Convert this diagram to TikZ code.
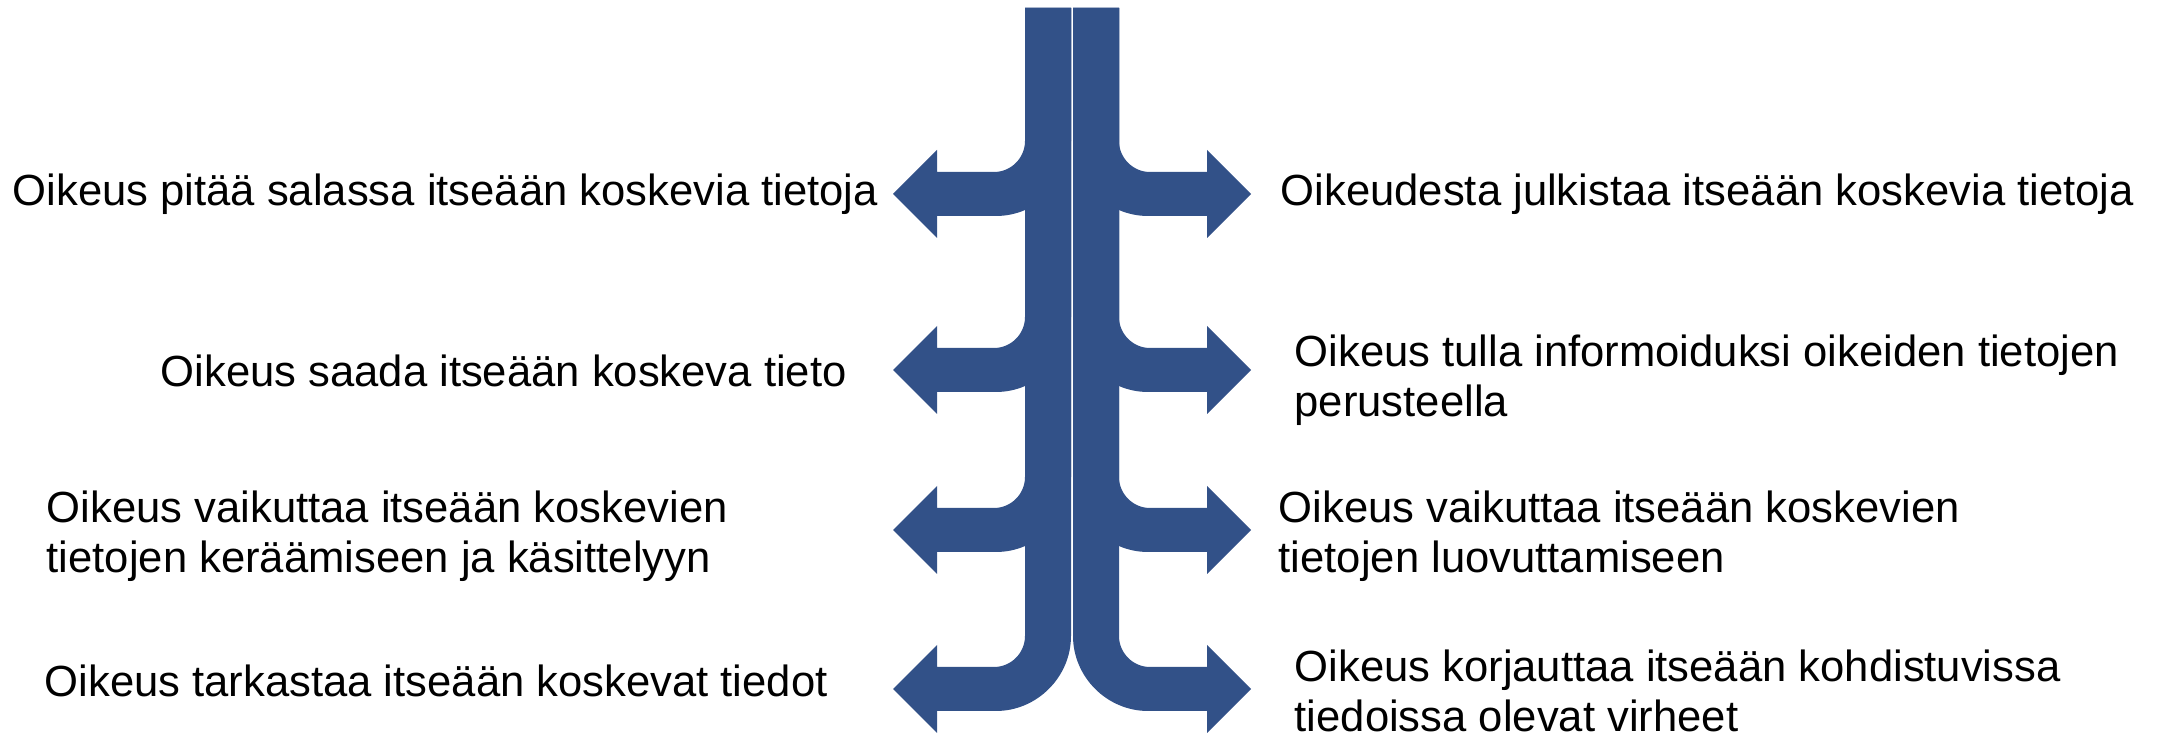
\documentclass[tikz,border=0pt]{standalone}
\usepackage{fontspec}
\setmainfont{Liberation Sans}
\definecolor{arrowblue}{RGB}{50,81,136}
\begin{document}
\begin{tikzpicture}[x=0.01cm,y=-0.01cm,
	infotext/.style={anchor=west,inner sep=0pt,align=left,font=\fontsize{12.4}{14.1}\selectfont},
	bent/.style={fill=arrowblue}]
	\useasboundingbox (0,0) rectangle (2159,737);
	\foreach \s/\o in {1/0,-1/2144}{
		\foreach \c in {194,370,530,689}{
			\fill[bent,shift={(\o,0)},xscale=\s] (1025,8) -- (1071,8) -- (1071,\c-53)
				.. controls (1071,\c-12) and (1037,\c+22) .. (996,\c+22) -- (937,\c+22) -- (937,\c+44)
				-- (893,\c) -- (937,\c-44) -- (937,\c-22) -- (994,\c-22)
				.. controls (1011,\c-22) and (1025,\c-36) .. (1025,\c-53) -- cycle;
		}
	}
	\node[infotext] (l1) at (12,194) {Oikeus pitää salassa itseään koskevia tietoja};
	\node[infotext] (l2) at (160,371) {Oikeus saada itseään koskeva tieto};
	\node[infotext] (l3) at (46,536) {Oikeus vaikuttaa itseään koskevien\\tietojen keräämiseen ja käsittelyyn};
	\node[infotext] (l4) at (44,681) {Oikeus tarkastaa itseään koskevat tiedot};
	\node[infotext] (r1) at (1280,194) {Oikeudesta julkistaa itseään koskevia tietoja};
	\node[infotext] (r2) at (1294,380) {Oikeus tulla informoiduksi oikeiden tietojen\\perusteella};
	\node[infotext] (r3) at (1278,536) {Oikeus vaikuttaa itseään koskevien\\tietojen luovuttamiseen};
	\node[infotext] (r4) at (1294,691) {Oikeus korjauttaa itseään kohdistuvissa\\tiedoissa olevat virheet};
\end{tikzpicture}
\end{document}
